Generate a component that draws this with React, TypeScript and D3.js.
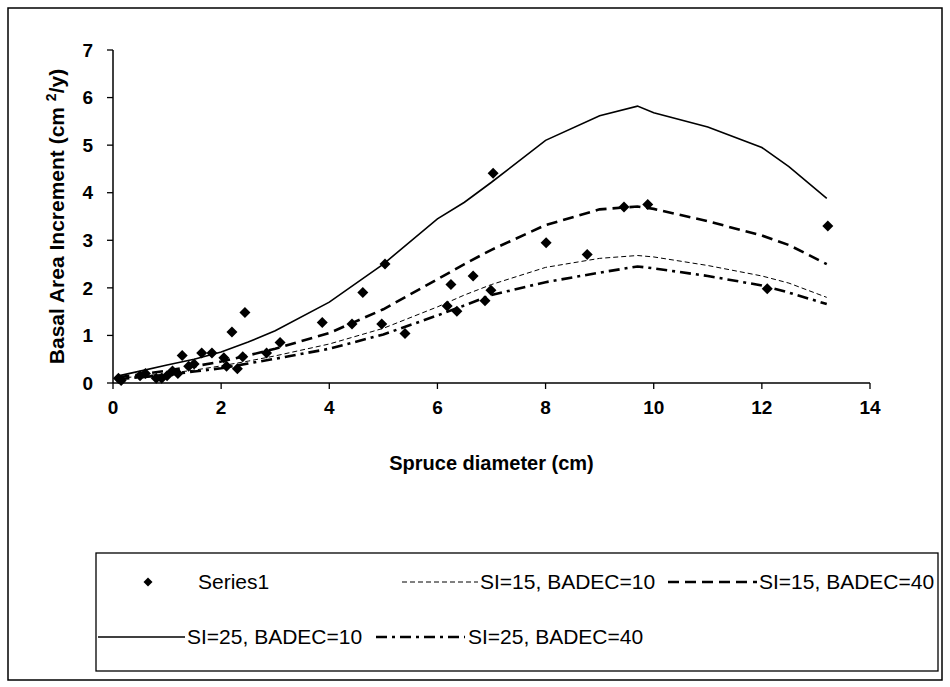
import React from "react";
import * as d3 from "d3";

const xTicks = [0, 2, 4, 6, 8, 10, 12, 14];
const yTicks = [0, 1, 2, 3, 4, 5, 6, 7];

const obsX = [0.1, 0.15, 0.5, 0.6, 0.8, 0.9, 1.0, 1.1, 1.2, 1.28, 1.4, 1.5, 1.64, 1.83, 2.05, 2.1, 2.2, 2.3, 2.4, 2.44, 2.84, 3.09, 3.87, 4.42, 4.62, 4.97, 5.03, 5.4, 6.18, 6.25, 6.36, 6.66, 6.88, 6.99, 7.03, 8.01, 8.77, 9.45, 9.89, 12.1, 13.22];
const obsY = [0.1, 0.05, 0.15, 0.2, 0.1, 0.1, 0.15, 0.25, 0.2, 0.58, 0.35, 0.4, 0.63, 0.63, 0.53, 0.35, 1.07, 0.3, 0.55, 1.48, 0.63, 0.85, 1.27, 1.24, 1.9, 1.24, 2.5, 1.04, 1.62, 2.07, 1.51, 2.25, 1.73, 1.95, 4.41, 2.95, 2.7, 3.7, 3.75, 1.98, 3.3];

const curveX = [0.1, 0.5, 1.0, 1.5, 2.0, 2.5, 3.0, 4.0, 5.0, 6.0, 6.5, 7.0, 8.0, 9.0, 9.7, 10.0, 11.0, 12.0, 12.5, 13.2];
const si15b10 = [0.1, 0.14, 0.2, 0.27, 0.36, 0.46, 0.57, 0.82, 1.15, 1.6, 1.85, 2.07, 2.43, 2.62, 2.68, 2.65, 2.47, 2.25, 2.1, 1.8];
const si15b40 = [0.12, 0.18, 0.26, 0.35, 0.45, 0.58, 0.72, 1.05, 1.55, 2.18, 2.5, 2.8, 3.32, 3.65, 3.71, 3.66, 3.4, 3.1, 2.9, 2.5];
const si25b10 = [0.15, 0.25, 0.38, 0.5, 0.65, 0.86, 1.1, 1.7, 2.5, 3.45, 3.8, 4.22, 5.1, 5.62, 5.82, 5.68, 5.38, 4.95, 4.55, 3.88];
const si25b40 = [0.08, 0.12, 0.17, 0.24, 0.31, 0.41, 0.51, 0.72, 1.02, 1.42, 1.63, 1.85, 2.12, 2.32, 2.45, 2.41, 2.25, 2.05, 1.9, 1.66];

const seriesNames = ["Series1", "SI=15, BADEC=10", "SI=15, BADEC=40", "SI=25, BADEC=10", "SI=25, BADEC=40"];

export default function App() {
  const x = d3.scaleLinear().domain([0, 14]).range([113, 870]);
  const y = d3.scaleLinear().domain([0, 7]).range([383, 50]);
  const line = d3
    .line<number>()
    .x((_, i) => x(curveX[i]))
    .y((d) => y(d));

  const curves = [
    { name: seriesNames[1], vals: si15b10, w: 1, dash: "5,3" },
    { name: seriesNames[2], vals: si15b40, w: 2.6, dash: "11,6" },
    { name: seriesNames[3], vals: si25b10, w: 1.6, dash: "" },
    { name: seriesNames[4], vals: si25b40, w: 2.6, dash: "11,5,3,5" },
  ];
  const diamond = (cx: number, cy: number, r: number) =>
    `M${cx},${cy - r}L${cx + r},${cy}L${cx},${cy + r}L${cx - r},${cy}Z`;
  const font = "'Liberation Sans', Arial, sans-serif";

  const legendRows = [
    [
      { type: "marker", name: seriesNames[0], tx: 198 },
      { type: "line", c: curves[0], sx: 402, sx2: 478, tx: 480 },
      { type: "line", c: curves[1], sx: 668, sx2: 757, tx: 759 },
    ],
    [
      { type: "line", c: curves[2], sx: 98, sx2: 185, tx: 187 },
      { type: "line", c: curves[3], sx: 376, sx2: 465, tx: 468 },
    ],
  ];
  const rowY = [582, 637];

  return (
    <svg
      width={950}
      height={687}
      style={{ position: "absolute", left: 0, top: 0, background: "#fff" }}
      fontFamily={font}
    >
      <rect x={8} y={8} width={934} height={672} fill="#fff" stroke="#000" strokeWidth={1.5} />

      {/* axes */}
      <line x1={x(0)} x2={x(0)} y1={y(7)} y2={y(0)} stroke="#000" strokeWidth={1.5} />
      <line x1={x(0)} x2={x(14)} y1={y(0)} y2={y(0)} stroke="#000" strokeWidth={1.5} />
      {yTicks.map((t) => (
        <g key={"y" + t}>
          <line x1={x(0) - 6} x2={x(0)} y1={y(t)} y2={y(t)} stroke="#000" strokeWidth={1.3} />
          <text x={x(0) - 20} y={y(t)} dy="0.35em" textAnchor="end" fontSize={19} fontWeight="bold">
            {t}
          </text>
        </g>
      ))}
      {xTicks.map((t) => (
        <g key={"x" + t}>
          <line x1={x(t)} x2={x(t)} y1={y(0)} y2={y(0) + 6} stroke="#000" strokeWidth={1.3} />
          <text x={x(t)} y={y(0) + 31} textAnchor="middle" fontSize={19} fontWeight="bold">
            {t}
          </text>
        </g>
      ))}
      <text x={(x(0) + x(14)) / 2} y={470} textAnchor="middle" fontSize={20} fontWeight="bold">
        Spruce diameter (cm)
      </text>
      <text
        transform={`translate(64, ${(y(0) + y(7)) / 2}) rotate(-90)`}
        textAnchor="middle"
        fontSize={21}
        fontWeight="bold"
      >
        Basal Area Increment (cm <tspan dy={-8} fontSize={14}>2</tspan>
        <tspan dy={8}>/y)</tspan>
      </text>

      {/* curves */}
      {curves.map((c) => (
        <path
          key={c.name}
          d={line(c.vals) || ""}
          fill="none"
          stroke="#000"
          strokeWidth={c.w}
          strokeDasharray={c.dash}
        />
      ))}
      {obsX.map((v, i) => (
        <path key={"p" + i} d={diamond(x(v), y(obsY[i]), 5.5)} fill="#000" />
      ))}

      {/* legend */}
      <rect x={96} y={553} width={842} height={118} fill="none" stroke="#000" strokeWidth={1.3} />
      {legendRows.map((row, ri) =>
        row.map((it: any, k) => (
          <g key={ri + "-" + k}>
            {it.type === "marker" ? (
              <path d={diamond(148, rowY[ri], 4.5)} fill="#000" />
            ) : (
              <line
                x1={it.sx}
                x2={it.sx2}
                y1={rowY[ri]}
                y2={rowY[ri]}
                stroke="#000"
                strokeWidth={it.c.w}
                strokeDasharray={it.c.dash}
              />
            )}
            <text x={it.tx} y={rowY[ri]} dy="0.35em" fontSize={21}>
              {it.type === "marker" ? it.name : it.c.name}
            </text>
          </g>
        ))
      )}
    </svg>
  );
}
